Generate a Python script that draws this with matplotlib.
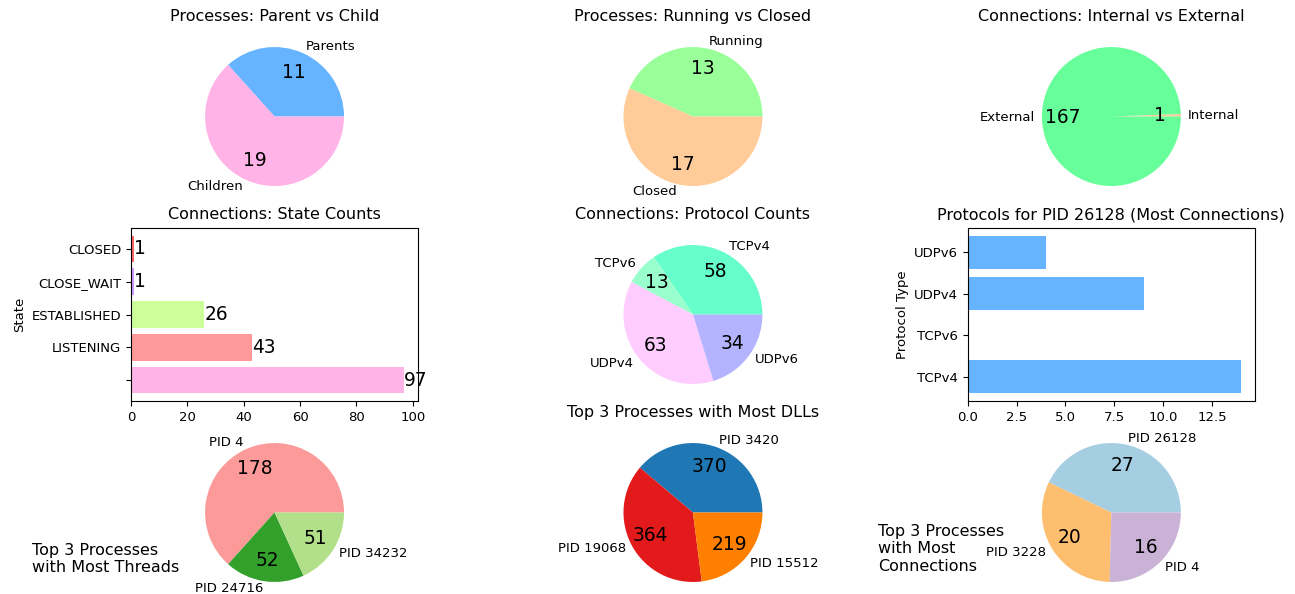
import matplotlib
matplotlib.use("Agg")
import matplotlib.pyplot as plt

# process / connection summary values
parent_labels = ["Parents", "Children"]
parent_counts = [11, 19]
parent_colors = ["#66b3ff", "#ffb3e6"]

status_labels = ["Running", "Closed"]
status_counts = [13, 17]
status_colors = ["#99ff99", "#ffcc99"]

scope_labels = ["Internal", "External"]
scope_counts = [1, 167]
scope_colors = ["#ffcc99", "#66ff99"]

state_labels = ["", "LISTENING", "ESTABLISHED", "CLOSE_WAIT", "CLOSED"]
state_counts = [97, 43, 26, 1, 1]
state_colors = ["#ffb3e6", "#ff9999", "#ccff99", "#cc99ff", "#ff6666"]

proto_labels = ["TCPv4", "TCPv6", "UDPv4", "UDPv6"]
proto_counts = [58, 13, 63, 34]
proto_colors = ["#66ffcc", "#99ffcc", "#ffccff", "#b3b3ff"]

pid_proto_labels = ["TCPv4", "TCPv6", "UDPv4", "UDPv6"]
pid_proto_counts = [14, 0, 9, 4]

thread_labels = ["PID 4", "PID 24716", "PID 34232"]
thread_counts = [178, 52, 51]
thread_colors = ["#fb9a99", "#33a02c", "#b2df8a"]

dll_labels = ["PID 3420", "PID 19068", "PID 15512"]
dll_counts = [370, 364, 219]
dll_colors = ["#1f78b4", "#e31a1c", "#ff7f00"]

conn_labels = ["PID 26128", "PID 3228", "PID 4"]
conn_counts = [27, 20, 16]
conn_colors = ["#a6cee3", "#fdbf6f", "#cab2d6"]

plt.rcParams["font.size"] = 9.5
TITLE_SIZE = 11.5
NUM_SIZE = 13.4


def count_pct(values):
    total = sum(values)

    def fmt(p):
        return f"{int(round(p * total / 100.0))}"

    return fmt


def draw_pie(ax, values, labels, colors, title=None):
    ax.pie(values, labels=labels, colors=colors, autopct=count_pct(values),
           pctdistance=0.7)
    for t in ax.texts:
        if t.get_text().isdigit():
            t.set_fontsize(NUM_SIZE)
    if title:
        ax.set_title(title, fontsize=TITLE_SIZE)


fig, axes = plt.subplots(3, 3, figsize=(12.95, 5.94), dpi=100)
fig.subplots_adjust(left=0.1012, right=0.969, top=0.950, bottom=-0.009,
                    wspace=0.458, hspace=0.14)

draw_pie(axes[0, 0], parent_counts, parent_labels, parent_colors,
         "Processes: Parent vs Child")
draw_pie(axes[0, 1], status_counts, status_labels, status_colors,
         "Processes: Running vs Closed")
draw_pie(axes[0, 2], scope_counts, scope_labels, scope_colors,
         "Connections: Internal vs External")

# state counts
ax = axes[1, 0]
ax.barh(state_labels, state_counts, color=state_colors)
for i, v in enumerate(state_counts):
    ax.text(v, i, str(v), va="center", ha="left", fontsize=NUM_SIZE)
ax.set_ylabel("State")
ax.set_title("Connections: State Counts", fontsize=TITLE_SIZE)

draw_pie(axes[1, 1], proto_counts, proto_labels, proto_colors,
         "Connections: Protocol Counts")

# protocols for busiest pid
ax = axes[1, 2]
ax.barh(pid_proto_labels, pid_proto_counts, color="#66b3ff")
ax.set_xlabel("PID 26128")
ax.set_ylabel("Protocol Type")
ax.set_title("Protocols for PID 26128 (Most Connections)", fontsize=TITLE_SIZE)

draw_pie(axes[2, 0], thread_counts, thread_labels, thread_colors)
fig.text(0.0247, 0.032, "Top 3 Processes\nwith Most Threads",
         fontsize=TITLE_SIZE, ha="left", va="bottom")

draw_pie(axes[2, 1], dll_counts, dll_labels, dll_colors,
         "Top 3 Processes with Most DLLs")

draw_pie(axes[2, 2], conn_counts, conn_labels, conn_colors)
# white axes background sits over the bar chart's xlabel, as in the original
axes[2, 2].set_frame_on(True)
for s in axes[2, 2].spines.values():
    s.set_visible(False)
fig.text(0.678, 0.034, "Top 3 Processes\nwith Most\nConnections",
         fontsize=TITLE_SIZE, ha="left", va="bottom")

fig.savefig("out.png", dpi=100)
